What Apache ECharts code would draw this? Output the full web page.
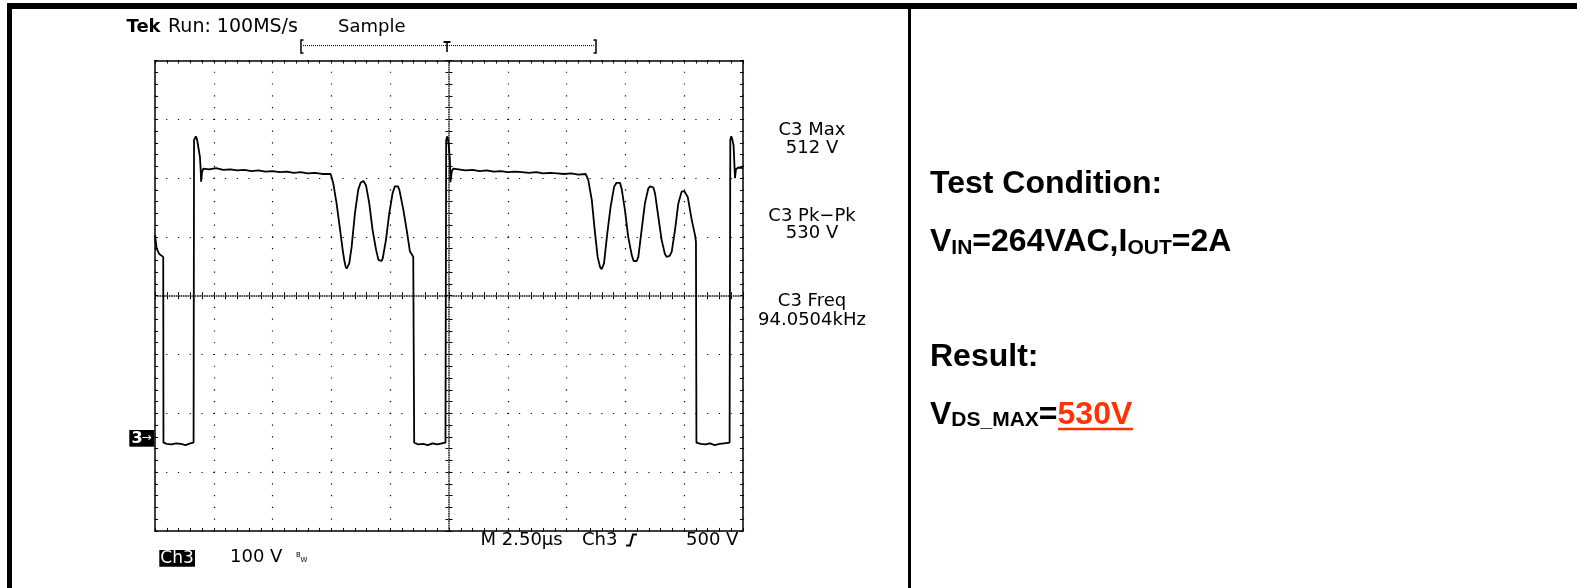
<!DOCTYPE html>
<html>
<head>
<meta charset="utf-8">
<title>VDS waveform 264VAC / 2A</title>
<script src="https://cdn.jsdelivr.net/npm/echarts@6/dist/echarts.min.js"></script>
<style>
  html, body { margin: 0; padding: 0; background: #fff; }
  #chart { width: 1577px; height: 588px; }
</style>
</head>
<body>
<div id="chart"></div>
<script>
// scope settings: 2.5us/div, 100V/div, ground marker at 0 V
const timeMin = 0, timeMax = 25, timePerDiv = 2.5;
const voltMin = -160, voltMax = 640;

// Ch3 trace (us, V)
const timeUs = [
  0.00, 0.07, 0.18, 0.35, 0.36, 0.50, 0.70, 0.90, 1.10, 1.30, 1.50, 1.64,
  1.66, 1.74, 1.79, 1.84, 1.91, 1.94, 1.96, 2.00, 2.05,
  2.30, 2.60, 2.90, 3.20, 3.50, 3.80, 4.10, 4.40, 4.70, 5.00, 5.30, 5.60, 5.90, 6.20, 6.50, 6.80, 7.10, 7.47,
  7.58, 7.72, 7.87, 7.98, 8.04, 8.10, 8.15, 8.20, 8.26, 8.36, 8.50, 8.64, 8.74, 8.80, 8.86, 8.92, 8.97, 9.11, 9.25, 9.40, 9.50, 9.57,
  9.63, 9.68, 9.82, 9.96, 10.10, 10.20, 10.27, 10.33, 10.39, 10.56, 10.70, 10.84, 10.91, 10.98, 11.01,
  11.02, 11.20, 11.40, 11.60, 11.80, 12.00, 12.20, 12.35,
  12.38, 12.43, 12.48, 12.54, 12.56, 12.62, 12.68,
  12.90, 13.20, 13.50, 13.80, 14.10, 14.40, 14.70, 15.00, 15.30, 15.60, 15.90, 16.20, 16.50, 16.80, 17.10, 17.40, 17.70, 18.00, 18.31,
  18.42, 18.57, 18.71, 18.82, 18.92, 18.99, 19.05, 19.09, 19.23, 19.37, 19.52, 19.62, 19.70, 19.77, 19.84, 19.98, 20.12, 20.27, 20.35, 20.41,
  20.48, 20.55, 20.69, 20.83, 20.97, 21.05, 21.12, 21.19, 21.26, 21.40, 21.54, 21.68, 21.76, 21.82, 21.89, 21.97, 22.11, 22.25, 22.39, 22.50, 22.58, 22.65,
  22.82, 22.96, 23.00,
  23.02, 23.20, 23.40, 23.60, 23.80, 24.00, 24.20, 24.43,
  24.46, 24.50, 24.55, 24.60, 24.66, 24.70, 24.80, 25.00
];
const voltsV = [
  343, 320, 311, 306, -10, -12, -13, -11, -12, -14, -11, -10,
  505, 511, 505, 493, 476, 456, 434, 450, 456,
  455, 457, 454, 455, 453, 454, 452, 453, 451, 452, 450, 451, 449, 450, 448, 449, 447, 447,
  431, 397, 352, 318, 302, 290, 286, 288, 295, 323, 380, 420, 432, 434, 435, 433, 428, 397, 352, 318, 301, 298,
  299, 303, 335, 380, 414, 426, 428, 426, 420, 386, 352, 315, 311, 306, 305,
  -10, -13, -12, -14, -11, -13, -11, -10,
  505, 511, 500, 470, 433, 452, 456,
  455, 453, 454, 452, 453, 451, 452, 450, 451, 450, 449, 450, 448, 449, 448, 447, 448, 446, 447,
  437, 403, 346, 306, 289, 285, 287, 295, 346, 391, 425, 432, 435, 432, 422, 386, 340, 309, 299, 296,
  299, 306, 352, 397, 422, 426, 427, 424, 414, 374, 335, 311, 306, 305, 308, 315, 352, 397, 417, 418, 416, 408,
  369, 343, 332,
  -10, -12, -13, -11, -14, -12, -11, -10,
  505, 511, 505, 495, 440, 455, 458, 457
];

// readouts
const headerTexts = ['Tek', 'Run: 100MS/s', 'Sample'];
const measNames = ['C3 Max', 'C3 Pk\u2212Pk', 'C3 Freq'];
const measValues = ['512 V', '530 V', '94.0504kHz'];
const footerTexts = ['Ch3', '100 V', 'M 2.50\u00b5s', 'Ch3', '500 V'];

const chart = echarts.init(document.getElementById('chart'));

const TEK_FONT = '"DejaVu Sans", sans-serif';
const DOC_FONT = '"Liberation Sans", Arial, sans-serif';
const RED = '#ff3300';

function text(x, y, str, size, extra) {
  return {
    type: 'text', x: x, y: y, silent: true,
    style: Object.assign({
      text: str, fill: '#000',
      fontSize: size, fontFamily: TEK_FONT,
      align: 'left', verticalAlign: 'middle',
      textAlign: 'left', textVerticalAlign: 'middle'
    }, extra || {})
  };
}

// graticule axes (divisions), trace drawn on the hidden data axes
function borderX(pos) {
  return {
    gridIndex: 0, type: 'value', position: pos,
    min: timeMin, max: timeMax, interval: timePerDiv,
    axisLine: { show: true, onZero: false, lineStyle: { color: '#000', width: 1.5 } },
    axisTick: { show: true, inside: true, length: 3, lineStyle: { color: '#000', width: 1 } },
    minorTick: { show: true, splitNumber: 5, length: 3, lineStyle: { color: '#000', width: 1 } },
    axisLabel: { show: false },
    splitLine: {
      show: pos === 'bottom',
      lineStyle: { color: '#000', width: 1.2, type: [1.2, 10.56], dashOffset: 0.6 }
    }
  };
}
function borderY(pos) {
  return {
    gridIndex: 0, type: 'value', position: pos,
    min: 0, max: 8, interval: 1,
    axisLine: { show: true, onZero: false, lineStyle: { color: '#000', width: 1.5 } },
    axisTick: { show: true, inside: true, length: 3, lineStyle: { color: '#000', width: 1 } },
    minorTick: { show: true, splitNumber: 5, length: 3, lineStyle: { color: '#000', width: 1 } },
    axisLabel: { show: false },
    splitLine: {
      show: pos === 'left',
      lineStyle: { color: '#000', width: 1.2, type: [1.2, 10.56], dashOffset: 0.6 }
    }
  };
}
function centerX(pos) {
  return {
    gridIndex: 1, type: 'value', position: pos,
    min: timeMin, max: timeMax, interval: timePerDiv,
    axisLine: { show: true, onZero: false, lineStyle: { color: '#555', width: 1, type: [1, 1.35] } },
    axisTick: { show: true, inside: false, length: 3, lineStyle: { color: '#000', width: 1 } },
    minorTick: { show: true, splitNumber: 5, length: 3, lineStyle: { color: '#000', width: 1 } },
    axisLabel: { show: false },
    splitLine: { show: false }
  };
}
function centerY(pos) {
  return {
    gridIndex: 2, type: 'value', position: pos,
    min: 0, max: 8, interval: 1,
    axisLine: { show: true, onZero: false, lineStyle: { color: '#555', width: 1, type: [1, 1.35] } },
    axisTick: { show: true, inside: false, length: 3, lineStyle: { color: '#000', width: 1 } },
    minorTick: { show: true, splitNumber: 5, length: 3, lineStyle: { color: '#000', width: 1 } },
    axisLabel: { show: false },
    splitLine: { show: false }
  };
}

const graphics = [
  // table frame
  { type: 'rect', silent: true, shape: { x: 7, y: 3, width: 1570, height: 6 }, style: { fill: '#000' } },
  { type: 'rect', silent: true, shape: { x: 7, y: 3, width: 5, height: 585 }, style: { fill: '#000' } },
  { type: 'rect', silent: true, shape: { x: 908, y: 3, width: 3, height: 585 }, style: { fill: '#000' } },

  // header
  text(126.5, 27, headerTexts[0], 18, { fontWeight: 'bold' }),
  text(168, 27, headerTexts[1], 19),
  text(338, 27, headerTexts[2], 18),

  // record / trigger position bar
  { type: 'polyline', silent: true, shape: { points: [[303.5, 40], [301, 40], [301, 53], [303.5, 53]] }, style: { stroke: '#000', lineWidth: 1.5, fill: null } },
  { type: 'line', silent: true, shape: { x1: 303, y1: 45.5, x2: 594, y2: 45.5 }, style: { stroke: '#000', lineWidth: 1, lineDash: [1, 1] } },
  { type: 'polyline', silent: true, shape: { points: [[593.5, 40], [596, 40], [596, 53], [593.5, 53]] }, style: { stroke: '#000', lineWidth: 1.5, fill: null } },
  { type: 'line', silent: true, shape: { x1: 443.5, y1: 42, x2: 450.5, y2: 42 }, style: { stroke: '#000', lineWidth: 2 } },
  { type: 'line', silent: true, shape: { x1: 447, y1: 42, x2: 447, y2: 52 }, style: { stroke: '#000', lineWidth: 1.6 } },

  // ground marker
  { type: 'rect', silent: true, shape: { x: 129.3, y: 430, width: 25, height: 16.7 }, style: { fill: '#000' } },
  text(131.5, 438.5, '3', 16, { fill: '#fff', fontWeight: 'bold' }),
  text(141.5, 438, '\u2192', 12, { fill: '#fff' }),

  // footer
  { type: 'rect', silent: true, shape: { x: 159.3, y: 550, width: 35.7, height: 16.7 }, style: { fill: '#000' } },
  text(177, 558.5, footerTexts[0], 17, { fill: '#fff', align: 'center', textAlign: 'center' }),
  text(230, 557.5, footerTexts[1], 18),
  text(296, 555.5, 'B', 7),
  text(300.5, 560.5, 'W', 7),
  text(480.5, 540, footerTexts[2], 18),
  text(582, 540, footerTexts[3], 18),
  { type: 'polyline', silent: true, shape: { points: [[626, 545.5], [630, 545.5], [633, 534.5], [637, 534.5]] }, style: { stroke: '#000', lineWidth: 2, fill: null } },
  text(686, 540, footerTexts[4], 18),

  // right side test notes
  text(930, 184, 'Test Condition:', 32, { fontFamily: DOC_FONT, fontWeight: 'bold' }),
  {
    type: 'text', x: 930, y: 242.4, silent: true,
    style: {
      text: '{a|V}{s|IN}{a|=264VAC,I}{s|OUT}{a|=2A}',
      align: 'left', verticalAlign: 'middle', textAlign: 'left', textVerticalAlign: 'middle',
      rich: {
        a: { fontSize: 32, lineHeight: 32, fontWeight: 'bold', fontFamily: DOC_FONT, fill: '#000', verticalAlign: 'bottom' },
        s: { fontSize: 21, lineHeight: 21, fontWeight: 'bold', fontFamily: DOC_FONT, fill: '#000', verticalAlign: 'bottom' }
      }
    }
  },
  text(930, 357.2, 'Result:', 32, { fontFamily: DOC_FONT, fontWeight: 'bold' }),
  {
    type: 'text', x: 930, y: 415.1, silent: true,
    style: {
      text: '{a|V}{s|DS_MAX}{a|=}{r|530V}',
      align: 'left', verticalAlign: 'middle', textAlign: 'left', textVerticalAlign: 'middle',
      rich: {
        a: { fontSize: 32, lineHeight: 32, fontWeight: 'bold', fontFamily: DOC_FONT, fill: '#000', verticalAlign: 'bottom' },
        s: { fontSize: 21, lineHeight: 21, fontWeight: 'bold', fontFamily: DOC_FONT, fill: '#000', verticalAlign: 'bottom' },
        r: { fontSize: 32, lineHeight: 32, fontWeight: 'bold', fontFamily: DOC_FONT, fill: RED, verticalAlign: 'bottom' }
      }
    }
  },
  { type: 'line', silent: true, shape: { x1: 1058, y1: 429, x2: 1133, y2: 429 }, style: { stroke: RED, lineWidth: 2.5 } }
];

// measurement readouts on the right of the screen
const measY = [[130, 148.3], [216.5, 233.5], [301.5, 320]];
measNames.forEach(function (name, i) {
  graphics.push(text(812, measY[i][0], name, 18, { align: 'center', textAlign: 'center' }));
  graphics.push(text(812, measY[i][1], measValues[i], 18, { align: 'center', textAlign: 'center' }));
});

const option = {
  animation: false,
  backgroundColor: '#fff',
  grid: [
    { left: 155, top: 60.5, width: 588, height: 470.4 },
    { left: 155, top: 295.2, width: 588, height: 1 },
    { left: 448.5, top: 60.5, width: 1, height: 470.4 }
  ],
  xAxis: [
    borderX('bottom'),
    borderX('top'),
    centerX('bottom'),
    centerX('top'),
    { gridIndex: 2, type: 'value', min: 0, max: 1, show: false, axisLine: { onZero: false } }
  ],
  yAxis: [
    { gridIndex: 0, type: 'value', min: voltMin, max: voltMax, show: false, axisLine: { onZero: false } },
    borderY('left'),
    borderY('right'),
    centerY('left'),
    centerY('right'),
    { gridIndex: 1, type: 'value', min: 0, max: 1, show: false, axisLine: { onZero: false } }
  ],
  series: [
    {
      name: 'Ch3',
      type: 'line',
      xAxisIndex: 0,
      yAxisIndex: 0,
      data: timeUs.map(function (t, i) { return [t, voltsV[i]]; }),
      showSymbol: false,
      symbol: 'none',
      silent: true,
      clip: true,
      lineStyle: { color: '#000', width: 1.8 },
      z: 5
    }
  ],
  graphic: graphics
};

chart.setOption(option);
</script>
</body>
</html>
